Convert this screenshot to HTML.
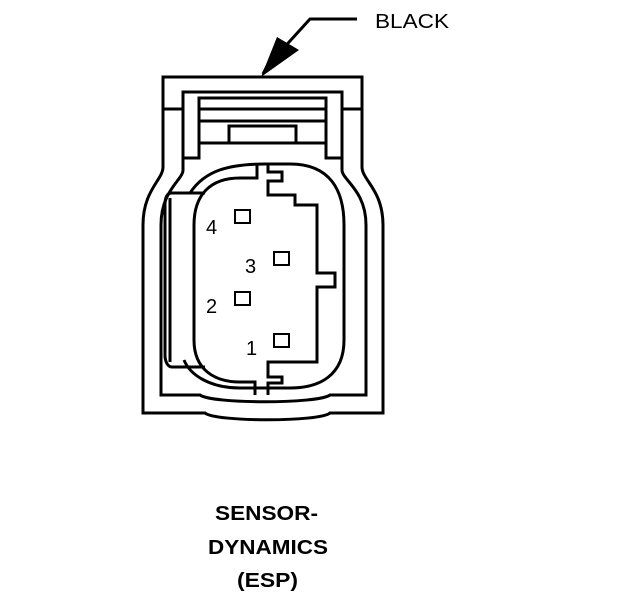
<!DOCTYPE html>
<html><head><meta charset="utf-8"><style>
html,body{margin:0;padding:0;background:#fff;}
svg{display:block;}
text{font-family:"Liberation Sans",Arial,sans-serif;fill:#000;}
</style></head><body>
<svg width="624" height="600" viewBox="0 0 624 600" xmlns="http://www.w3.org/2000/svg">
<g fill="none" stroke="#000" stroke-width="3" stroke-linejoin="miter">
<polyline points="357,19 310,19 280,52"/>
<polygon points="261,77 277,37 299,50" fill="#000" stroke="none"/>
<line x1="278" y1="45" x2="263" y2="74"/>
<path d="M163,167 L163,77 L362,77 L362,167 C362,180 383,190 383,225 L383,413 L330,413 C320,422 215,422 205,413 L143,413 L143,225 C143,190 163,180 163,167"/>
<line x1="163" y1="109" x2="183" y2="109"/>
<line x1="342" y1="109" x2="362" y2="109"/>
<path d="M183,170 L183,92 L342,92 L342,170 C342,180 366,190 366,225 L366,395 L330,395 C318,404 212,404 200,395 L161,395 L161,225 C161,190 183,180 183,170"/>
<path d="M183,158 L199,158 L199,98 L326,98 L326,158 L342,158"/>
<line x1="199" y1="109" x2="326" y2="109"/>
<line x1="199" y1="121" x2="326" y2="121"/>
<line x1="199" y1="143" x2="326" y2="143"/>
<rect x="229" y="126" width="67" height="17"/>
<path d="M190,193 C205,170 230,164 265,164 L290,164 C330,164 344,190 344,225 L344,340 C344,375 320,388 290,388 L240,388 C210,388 190,375 184,360"/>
<path d="M205,193 L172,193 C167,193 165,198 165,205 L165,355 C165,362 168,367 172,367 L205,367"/>
<line x1="170" y1="198" x2="170" y2="362"/>
<path d="M257,164 L257,178 L240,178 C210,178 194,195 194,225 L194,340 C194,370 215,382 240,382 L255,382 L255,395"/>
<path d="M268,164 L268,172 L282,172 L282,181 L268,181 L268,195 L295,195 L295,205 L317,205 L317,273 L335,273 L335,287 L317,287 L317,362 L268,362 L268,377 L282,377 L282,383 L268,383 L268,395"/>
<g stroke-width="2">
<rect x="235" y="210" width="15" height="13"/>
<rect x="274" y="252" width="15" height="13"/>
<rect x="235" y="292" width="15" height="13"/>
<rect x="274" y="334" width="15" height="13"/>
</g>
</g>
<text x="375" y="28" font-size="20" textLength="74" lengthAdjust="spacingAndGlyphs">BLACK</text>
<g font-size="20">
<text x="206" y="234">4</text>
<text x="245" y="273">3</text>
<text x="206" y="313">2</text>
<text x="246" y="355">1</text>
</g>
<g font-weight="bold" font-size="20">
<text x="215" y="520" textLength="103" lengthAdjust="spacingAndGlyphs">SENSOR-</text>
<text x="208" y="554" textLength="120" lengthAdjust="spacingAndGlyphs">DYNAMICS</text>
<text x="237" y="587" textLength="61" lengthAdjust="spacingAndGlyphs">(ESP)</text>
</g>
</svg>
</body></html>
